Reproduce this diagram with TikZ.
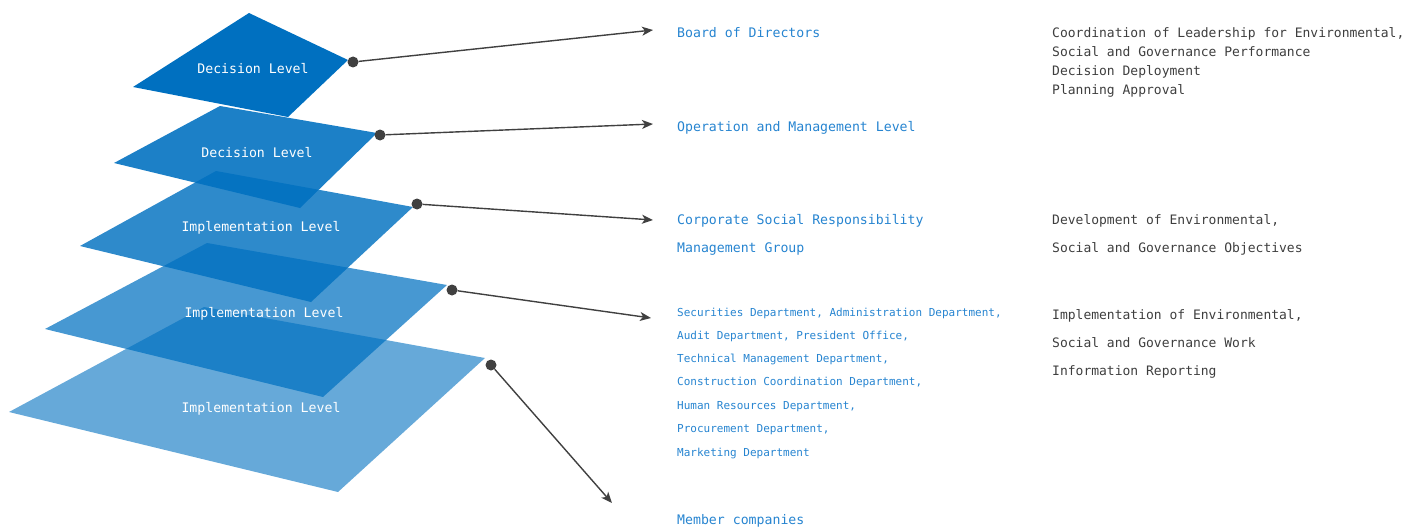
\documentclass[tikz,border=0pt]{standalone}
\usepackage{fontspec}
\setmonofont{DejaVu Sans Mono}
\usetikzlibrary{arrows.meta}
\definecolor{layerblue}{RGB}{0,112,192}
\definecolor{headblue}{RGB}{38,132,208}
\definecolor{notegray}{RGB}{62,62,62}
\definecolor{pingray}{RGB}{64,64,64}
\tikzstyle{layer}=[fill=layerblue]
\tikzstyle{lvl}=[white,inner sep=0pt,font=\ttfamily\fontsize{13.2}{16}\selectfont]
\tikzstyle{pin}=[circle,fill=pingray,inner sep=0pt,minimum size=11pt]
\tikzstyle{lead}=[pingray,line width=1.4pt,-{Stealth[length=11pt,width=9pt,inset=3pt]}]
\tikzstyle{head}=[headblue,anchor=base west,inner sep=0pt,font=\ttfamily\fontsize{13.2}{16}\selectfont]
\tikzstyle{dept}=[headblue,anchor=base west,inner sep=0pt,font=\ttfamily\fontsize{11}{13}\selectfont]
\tikzstyle{note}=[notegray,anchor=base west,inner sep=0pt,font=\ttfamily\fontsize{13}{16}\selectfont]

\begin{document}
\begin{tikzpicture}[x=1pt,y=-1pt]
    \useasboundingbox (0,0) rectangle (1425,527);
    % the five layers, lowest first
    \foreach \l/\t/\r/\b/\o in {{9,412}/{204,307}/{485,358}/{338,492}/.6, {45,329}/{207,243}/{447,285}/{323,397}/.72, {80,246}/{216,171}/{413,207}/{311,302}/.82, {114,163}/{220,106}/{377,133}/{300,208}/.89, {133,87}/{249,13}/{348,60}/{288,117}/1} {
        \fill[layer,fill opacity=\o] (\l) -- (\t) -- (\r) -- (\b) -- cycle;}
    \foreach \n/\p/\s in {lv1/{253,69}/Decision Level, lv2/{257,153}/Decision Level, lv3/{261,228}/Implementation Level, lv4/{264,314}/Implementation Level, lv5/{261,409}/Implementation Level}
        \node[lvl] (\n) at (\p) {\s};
    % pins and their leads
    \foreach \n/\p/\e in {1/{353,62}/{653,30}, 2/{380,135}/{653,124}, 3/{417,204}/{653,220}, 4/{452,290}/{651,318}, 5/{491,365}/{612,503}} {
        \node[pin] (pin\n) at (\p) {};
        \coordinate (end\n) at (\e);
        \draw[lead] (pin\n) -- (end\n);}
    % bodies
    \foreach \n/\y/\s in {bod/37.5/Board of Directors, oml/131.5/Operation and Management Level, csr/224.5/Corporate Social Responsibility, csg/252.5/Management Group, mem/524.5/Member companies}
        \node[head] (\n) at (677,\y) {\s};
    \foreach \n/\y/\s in {1/316/{Securities Department, Administration Department,}, 2/339/{Audit Department, President Office,}, 3/362/{Technical Management Department,}, 4/385.5/{Construction Coordination Department,}, 5/409/{Human Resources Department,}, 6/432/{Procurement Department,}, 7/456/{Marketing Department}}
        \node[dept] (dep\n) at (677,\y) {\s};
    % duties
    \foreach \n/\y/\s in {a/37.5/{Coordination of Leadership for Environmental,}, b/56.5/{Social and Governance Performance}, c/75.5/{Decision Deployment}, d/94.5/{Planning Approval}, e/224.5/{Development of Environmental,}, f/252.5/{Social and Governance Objectives}, g/319.5/{Implementation of Environmental,}, h/347.5/{Social and Governance Work}, i/375.5/{Information Reporting}}
        \node[note] (duty\n) at (1052,\y) {\s};
\end{tikzpicture}
\end{document}
